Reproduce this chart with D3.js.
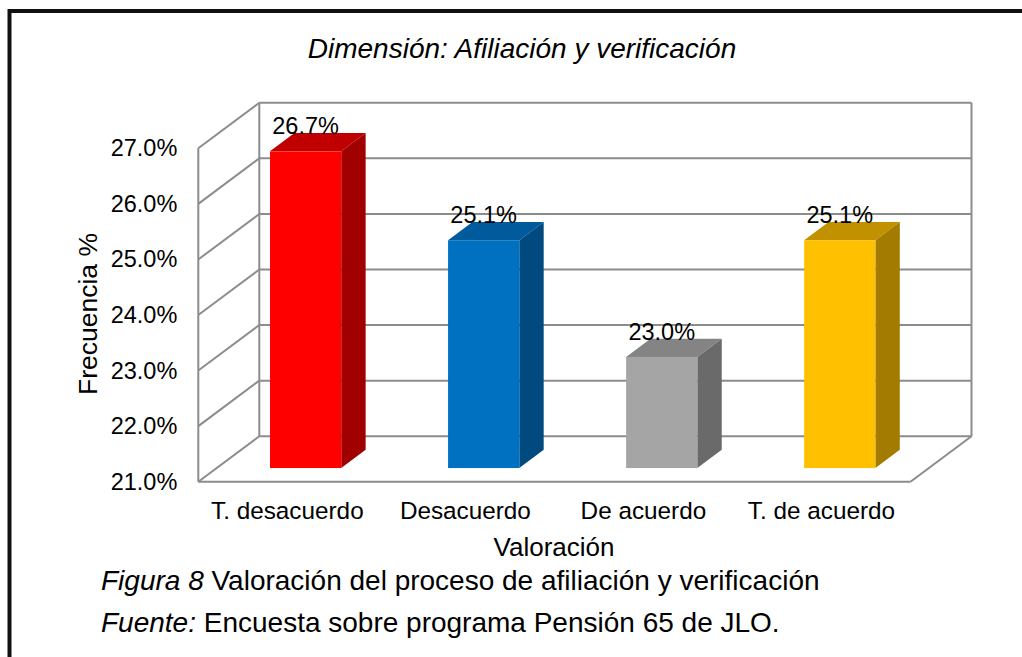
<!DOCTYPE html>
<html>
<head>
<meta charset="utf-8">
<script src="https://cdn.jsdelivr.net/npm/d3@7"></script>
<style>
  html, body { margin: 0; padding: 0; background: #fff; }
  svg { display: block; font-family: "Liberation Sans", Arial, sans-serif; }
</style>
</head>
<body>
<script>
// chart data
const categories = ['T. desacuerdo', 'Desacuerdo', 'De acuerdo', 'T. de acuerdo'];
const values = [26.7, 25.1, 23.0, 25.1];
const yTicks = [21, 22, 23, 24, 25, 26, 27];
const faceColors = ['#ff0000', '#0070c0', '#a5a5a5', '#ffc000'];
const topColors = ['#c00000', '#005a9c', '#848484', '#c29100'];
const sideColors = ['#a00000', '#004a80', '#6a6a6a', '#a37b00'];

const width = 1022;
const height = 657;

// 3D box: front plane and depth offset
const x0 = 198.3, x1 = 910.5;
const yBottom = 481.7, yTop = 148.3;
const depthX = 61, depthY = 45.5;
const barDepth = [0.3, 0.7];
const gridColor = '#8c8c8c';

const svg = d3.select('body')
  .append('svg')
  .attr('width', width)
  .attr('height', height);

const xScale = d3.scaleBand()
  .domain(categories)
  .range([x0, x1])
  .paddingInner(0.6)
  .paddingOuter(0.3);

const yScale = d3.scaleLinear()
  .domain([21, 27])
  .range([yBottom, yTop]);

// walls
const walls = svg.append('g')
  .attr('fill', 'none')
  .attr('stroke', gridColor)
  .attr('stroke-width', 2);

// back wall gridlines
walls.selectAll('line.back')
  .data(yTicks)
  .enter()
  .append('line')
  .attr('class', 'back')
  .attr('x1', x0 + depthX)
  .attr('x2', x1 + depthX)
  .attr('y1', (d) => yScale(d) - depthY)
  .attr('y2', (d) => yScale(d) - depthY);

// side wall diagonals
walls.selectAll('line.side')
  .data(yTicks)
  .enter()
  .append('line')
  .attr('class', 'side')
  .attr('x1', x0)
  .attr('x2', x0 + depthX)
  .attr('y1', (d) => yScale(d))
  .attr('y2', (d) => yScale(d) - depthY);

walls.append('line')
  .attr('x1', x0 + depthX).attr('x2', x0 + depthX)
  .attr('y1', yScale(27) - depthY).attr('y2', yScale(21) - depthY);
walls.append('line')
  .attr('x1', x1 + depthX).attr('x2', x1 + depthX)
  .attr('y1', yScale(27) - depthY).attr('y2', yScale(21) - depthY);
walls.append('line')
  .attr('x1', x0).attr('x2', x0)
  .attr('y1', yScale(27)).attr('y2', yScale(21));
walls.append('line')
  .attr('x1', x0).attr('x2', x1)
  .attr('y1', yScale(21)).attr('y2', yScale(21));
walls.append('line')
  .attr('x1', x1).attr('x2', x1 + depthX)
  .attr('y1', yScale(21)).attr('y2', yScale(21) - depthY);

// bars
const bars = categories.map((c, i) => ({ cat: c, value: values[i], i }));
const bw = xScale.bandwidth();
const fx = depthX * barDepth[0], fy = depthY * barDepth[0];
const bx = depthX * (barDepth[1] - barDepth[0]), by = depthY * (barDepth[1] - barDepth[0]);

const barG = svg.selectAll('g.bar')
  .data(bars)
  .enter()
  .append('g')
  .attr('class', 'bar');

const pts = (arr) => arr.map((p) => p.join(',')).join(' ');

barG.append('polygon')
  .attr('fill', (d) => topColors[d.i])
  .attr('points', (d) => {
    const l = xScale(d.cat) + fx, t = yScale(d.value) - fy;
    return pts([[l, t], [l + bw, t], [l + bw + bx, t - by], [l + bx, t - by]]);
  });

barG.append('polygon')
  .attr('fill', (d) => sideColors[d.i])
  .attr('points', (d) => {
    const r = xScale(d.cat) + fx + bw, t = yScale(d.value) - fy, b = yScale(21) - fy;
    return pts([[r, t], [r + bx, t - by], [r + bx, b - by], [r, b]]);
  });

barG.append('rect')
  .attr('fill', (d) => faceColors[d.i])
  .attr('x', (d) => xScale(d.cat) + fx)
  .attr('y', (d) => yScale(d.value) - fy)
  .attr('width', bw)
  .attr('height', (d) => yScale(21) - yScale(d.value));

// data labels
barG.append('text')
  .attr('x', (d) => xScale(d.cat) + fx + bw / 2)
  .attr('y', (d) => yScale(d.value) - fy - 17)
  .attr('text-anchor', 'middle')
  .attr('font-size', 23.5)
  .attr('fill', '#000')
  .text((d) => d.value.toFixed(1) + '%');

// y axis
const yAxis = d3.axisLeft(yScale)
  .tickValues(yTicks)
  .tickSize(0)
  .tickPadding(21)
  .tickFormat((d) => d.toFixed(1) + '%');

svg.append('g')
  .attr('transform', `translate(${x0}, 0)`)
  .call(yAxis)
  .call((g) => g.select('.domain').remove())
  .selectAll('text')
  .attr('font-size', 23.5)
  .attr('font-family', null)
  .attr('fill', '#000');

// x axis
const xAxis = d3.axisBottom(xScale)
  .tickSize(0)
  .tickPadding(20);

svg.append('g')
  .attr('transform', `translate(0, ${yBottom})`)
  .call(xAxis)
  .call((g) => g.select('.domain').remove())
  .selectAll('text')
  .attr('font-size', 24.3)
  .attr('font-family', null)
  .attr('fill', '#000');

// titles
svg.append('text')
  .attr('x', 522)
  .attr('y', 58)
  .attr('text-anchor', 'middle')
  .attr('font-size', 28)
  .attr('font-style', 'italic')
  .text('Dimensión: Afiliación y verificación');

svg.append('text')
  .attr('x', 554)
  .attr('y', 556)
  .attr('text-anchor', 'middle')
  .attr('font-size', 26)
  .text('Valoración');

svg.append('text')
  .attr('transform', 'translate(97, 314) rotate(-90)')
  .attr('text-anchor', 'middle')
  .attr('font-size', 26.5)
  .text('Frecuencia %');

// caption
const cap1 = svg.append('text')
  .attr('x', 101)
  .attr('y', 590)
  .attr('font-size', 28);
cap1.append('tspan').attr('font-style', 'italic').text('Figura 8');
cap1.append('tspan').text(' Valoración del proceso de afiliación y verificación');

const cap2 = svg.append('text')
  .attr('x', 101)
  .attr('y', 632)
  .attr('font-size', 28);
cap2.append('tspan').attr('font-style', 'italic').text('Fuente:');
cap2.append('tspan').text(' Encuesta sobre programa Pensión 65 de JLO.');

// frame
svg.append('rect')
  .attr('x', 9.5)
  .attr('y', 11)
  .attr('width', 1200)
  .attr('height', 1000)
  .attr('fill', 'none')
  .attr('stroke', '#111')
  .attr('stroke-width', 4);
</script>
</body>
</html>
